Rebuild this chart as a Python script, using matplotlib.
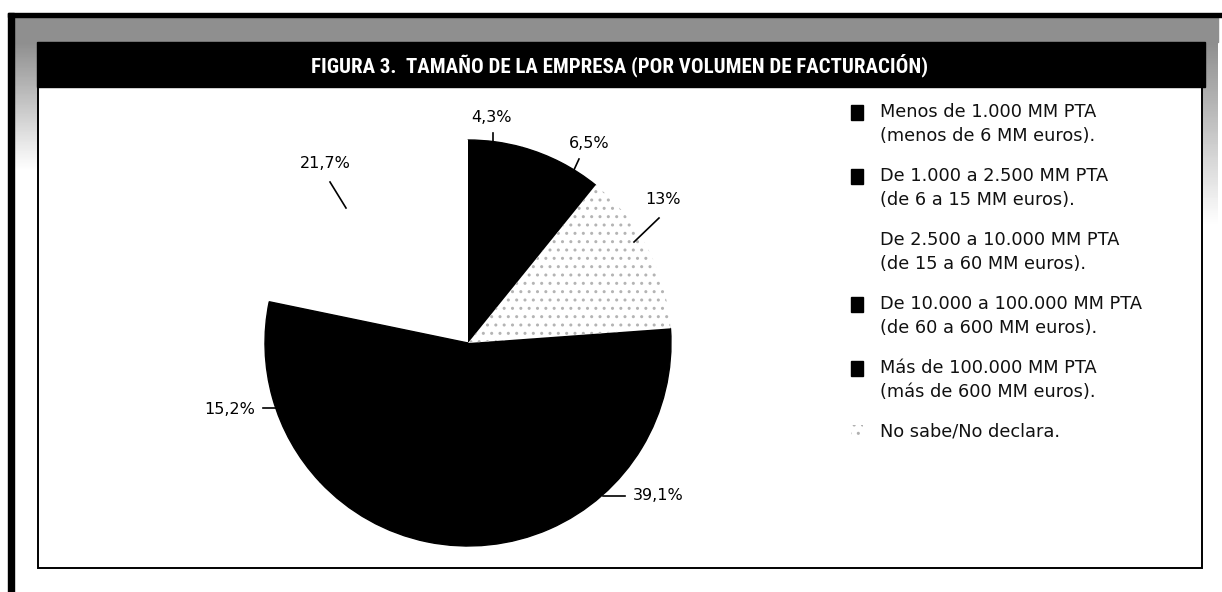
import numpy as np
import matplotlib.pyplot as plt
import matplotlib.patches as mpatches
from matplotlib import font_manager

# datos (orden de la leyenda)
categorias = [
    "Menos de 1.000 MM PTA",
    "De 1.000 a 2.500 MM PTA",
    "De 2.500 a 10.000 MM PTA",
    "De 10.000 a 100.000 MM PTA",
    "Más de 100.000 MM PTA",
    "No sabe/No declara.",
]
subtitulos = [
    "(menos de 6 MM euros).",
    "(de 6 a 15 MM euros).",
    "(de 15 a 60 MM euros).",
    "(de 60 a 600 MM euros).",
    "(más de 600 MM euros).",
    "",
]
valores = [6.5, 4.3, 21.7, 15.2, 39.1, 13]
titulo = "FIGURA 3.  TAMAÑO DE LA EMPRESA (POR VOLUMEN DE FACTURACIÓN)"

colores = ["black", "black", "white", "black", "black", "white"]

# posiciones de las etiquetas (pixeles): texto, alineacion, linea guia
pos_texto = [(589, 143, "center"), (492, 118, "center"), (325, 163, "center"),
             (255, 409, "right"), (633, 496, "left"), (663, 200, "center")]
guias = [((579, 159), (573, 172)), ((493, 133), (493, 143)), ((330, 182), (346, 208)),
         ((263, 408), (280, 408)), ((603, 496), (625, 496)), ((659, 218), (634, 242))]

# fuente estrecha para el titulo si existe
instaladas = {f.name for f in font_manager.fontManager.ttflist}
fuente_titulo, tam_titulo = "DejaVu Sans", 11.5
for nombre in ["Liberation Sans Narrow", "Roboto Condensed", "DejaVu Sans Condensed",
               "Open Sans Condensed"]:
    if nombre in instaladas:
        fuente_titulo, tam_titulo = nombre, 15
        break

W, H = 1222, 592
fig = plt.figure(figsize=(W / 100, H / 100), dpi=100)
ax = fig.add_axes([0, 0, 1, 1])

# marco exterior
ax.add_patch(mpatches.Rectangle((8, 13), W - 8, 4, color="black", zorder=3))
ax.add_patch(mpatches.Rectangle((8, 13), 6, H - 13, color="black", zorder=3))
# banda gris
ax.add_patch(mpatches.Rectangle((14, 17), 1204, 25, color="#8f8f8f", zorder=1))
grad = np.linspace(0.56, 1.0, 100).reshape(-1, 1)
ax.imshow(grad, extent=(14, 37, 170, 42), cmap="gray", vmin=0, vmax=1, aspect="auto", zorder=1)
ax.imshow(grad, extent=(1203, 1218, 225, 42), cmap="gray", vmin=0, vmax=1, aspect="auto", zorder=1)

# barra del titulo y caja
ax.add_patch(mpatches.Rectangle((37, 42), 1168, 45, color="black", zorder=3))
ax.add_patch(mpatches.Rectangle((37.5, 87), 1164.5, 481, facecolor="white",
                                edgecolor="black", linewidth=1.4, zorder=2))
ax.text(620, 65, titulo, color="white", fontsize=tam_titulo, fontweight="bold",
        family=[fuente_titulo, "DejaVu Sans"], ha="center", va="center", zorder=4)

# tarta (eje y invertido: angulos negativos y sentido horario en datos)
total = sum(valores)
inicio = 90 - 360 * (valores[0] + valores[1]) / total
wedges, _ = ax.pie(valores, colors=colores, startangle=-inicio, counterclock=False,
                   center=(468, 343), radius=203, wedgeprops=dict(linewidth=0))
for w, c in zip(wedges, colores):
    w.set_zorder(4)
    if c == "black":
        w.set_edgecolor("black")
        w.set_linewidth(1.0)
wedges[5].set_hatch("..")
wedges[5].set_edgecolor("#b4b4b4")

etiquetas = [("%g" % v).replace(".", ",") + "%" for v in valores]
for lab, (tx, ty, ha), (p1, p2) in zip(etiquetas, pos_texto, guias):
    ax.text(tx, ty, lab, fontsize=11.5, ha=ha, va="center", zorder=5)
    ax.plot([p1[0], p2[0]], [p1[1], p2[1]], color="black", linewidth=1.2, zorder=5)

# leyenda
y0, paso, interlinea = 112, 64, 24
for i, (cat, sub) in enumerate(zip(categorias, subtitulos)):
    y = y0 + i * paso
    if colores[i] == "black":
        ax.add_patch(mpatches.Rectangle((851, y - 7.5), 12, 15, color="black", zorder=5))
    elif i == 5:
        ax.add_patch(mpatches.Rectangle((851, y - 7.5), 12, 15, facecolor="white",
                                        edgecolor="#b0b0b0", linewidth=0, hatch="..", zorder=5))
    ax.text(880, y, cat, fontsize=12.8, va="center", color="#111111", zorder=5)
    if sub:
        ax.text(880, y + interlinea, sub, fontsize=12.8, va="center", color="#111111", zorder=5)

ax.set_xlim(0, W)
ax.set_ylim(H, 0)
ax.set_aspect("equal")
ax.axis("off")

fig.savefig("out.png", dpi=100, facecolor="white")
